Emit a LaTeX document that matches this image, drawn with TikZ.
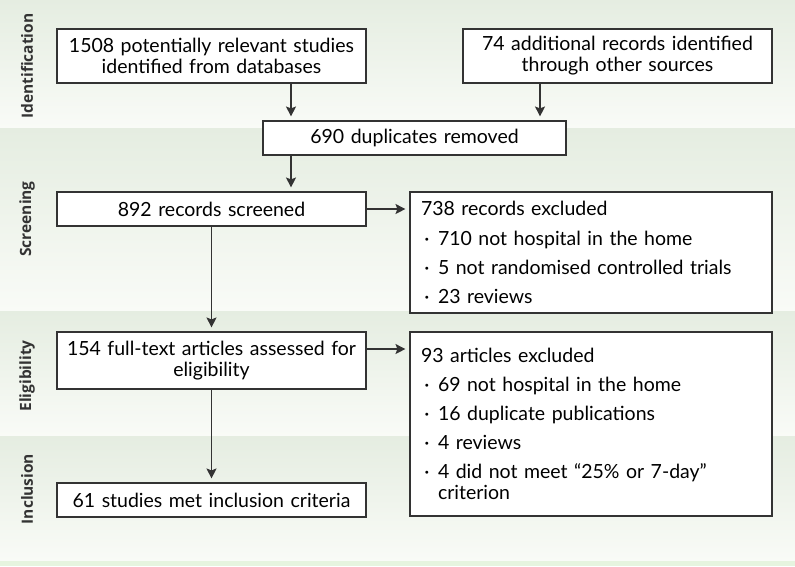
\documentclass[tikz,border=0pt]{standalone}
\usepackage{fontspec}
\setmainfont{Lato}
\newfontfamily\stagefont{Open Sans}
\usetikzlibrary{arrows.meta,positioning}
\definecolor{bandtop}{HTML}{E5EDE1}
\definecolor{bandbot}{HTML}{F9FBF7}
\definecolor{linegray}{HTML}{333333}
\definecolor{stripgreen}{HTML}{E6F4DF}
\newcommand{\itm}[1]{\makebox[17pt][l]{\,·}#1}
\tikzset{
    %Define standard arrow tip
    >={Stealth[length=10pt,width=10pt,inset=2pt]},
    %Define style for boxes
    punktrect/.style={
    rectangle,
    draw=linegray, line width=1.1pt,
    fill=white,
    font=\fontsize{19.5}{21}\selectfont,
    inner sep=0pt,
    text centered},
    widebox/.style={punktrect,
    minimum width=309pt,
    text width=300pt,
    align=center},
    listbox/.style={punktrect,
    minimum width=362pt,
    text width=340pt,
    align=left},
    % stage labels and bands
    stage/.style={font=\stagefont\bfseries\fontsize{15.5}{18}\selectfont, rotate=90, text=linegray},
    band/.style={top color=bandtop, bottom color=bandbot, draw=none},
    % Define arrow style
    pil/.style={
           ->,
           draw=linegray,
           line width=1.1pt,
           shorten >=4pt}
}
\begin{document}
\begin{tikzpicture}[x=1pt,y=-1pt]
\useasboundingbox (0,0) rectangle (795,566);
% background bands
\fill[band] (0,0) rectangle (795,128);
\fill[band] (0,128) rectangle (795,311);
\fill[band] (0,311) rectangle (795,436);
\fill[band] (0,436) rectangle (795,561);
\fill[stripgreen] (0,561) rectangle (795,566);
% stages
\node[stage] (ident) at (27,66) {Identification};
\node[stage] (screen) at (27,219) {Screening};
\node[stage] (elig) at (27,376) {Eligibility};
\node[stage] (incl) at (27,489) {Inclusion};
% boxes
\node[widebox, minimum height=54pt] (db) at (211.5,56) {1508 potentially relevant studies\\identified from databases};
\node[widebox, minimum height=54pt] (other) at (617.5,56) {74 additional records identified\\through other sources};
\node[widebox, minimum width=303pt, minimum height=34pt] (dup) at (414.5,138) {690 duplicates removed};
\node[widebox, minimum height=34pt] (screened) at (211.5,209) {892 records screened};
\node[listbox, minimum height=121pt] (excl1) at (591,252.5) {738 records excluded\\[9pt]
  \itm{710 not hospital in the home}\\[8pt]
  \itm{5 not randomised controlled trials}\\[8pt]
  \itm{23 reviews}};
\node[widebox, minimum height=57pt] (full) at (211.5,360.5) {154 full-text articles assessed for\\eligibility};
\node[listbox, minimum height=184pt] (excl2) at (591,424) {93 articles excluded\\[8pt]
  \itm{69 not hospital in the home}\\[8pt]
  \itm{16 duplicate publications}\\[8pt]
  \itm{4 reviews}\\[8pt]
  \itm{4 did not meet “25\% or 7-day”}\\
  \hspace*{17pt}criterion};
\node[widebox, minimum height=34pt] (met) at (211.5,500) {61 studies met inclusion criteria};
% connectors
\draw[pil] ([xshift=79.5pt]db.south) -- ([xshift=79.5pt]db.south |- dup.north);
\draw[pil] ([xshift=-77.5pt]other.south) -- ([xshift=-77.5pt]other.south |- dup.north);
\draw[pil] ([xshift=-123.5pt]dup.south) -- ([xshift=-123.5pt]dup.south |- screened.north);
\draw[pil] (screened.east) -- (screened.east -| excl1.west);
\draw[pil] (screened.south) -- (full.north);
\draw[pil] ([yshift=11.5pt]full.east) -- ([yshift=11.5pt]full.east -| excl2.west);
\draw[pil] (full.south) -- (met.north);
\end{tikzpicture}
\end{document}
